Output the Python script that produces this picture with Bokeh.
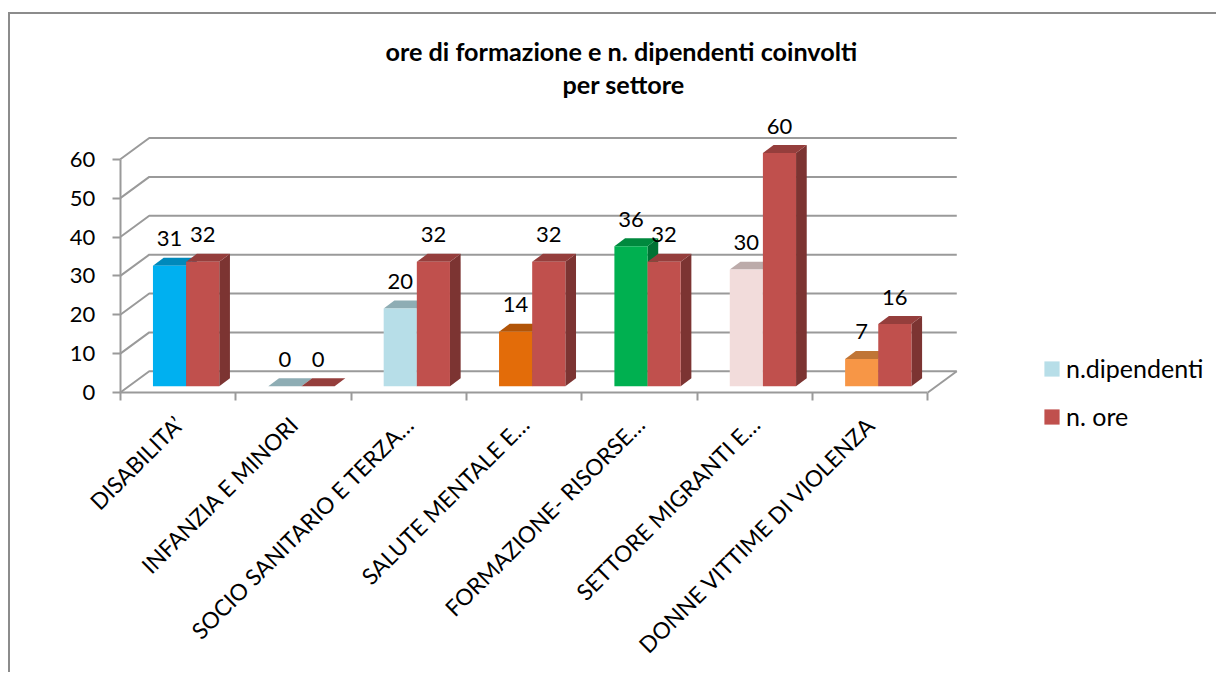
from math import pi
from bokeh.plotting import figure
from bokeh.layouts import column
from bokeh.models import (Range1d, FixedTicker, Legend, LegendItem, ColumnDataSource, Title)
from bokeh.core.properties import value
from bokeh.embed import file_html
from bokeh.resources import INLINE

title_lines = ["ore di formazione e n. dipendenti coinvolti", "per settore"]
categories = ["DISABILITA’", "INFANZIA E MINORI", "SOCIO SANITARIO E TERZA…", "SALUTE MENTALE E…",
              "FORMAZIONE- RISORSE…", "SETTORE MIGRANTI E…", "DONNE VITTIME DI VIOLENZA"]
n_dipendenti = [31, 0, 20, 14, 36, 30, 7]
n_ore = [32, 0, 32, 32, 32, 60, 16]
dip_colors = ["#00B0F0", "#B7DEE8", "#B7DEE8", "#E36C09", "#00B050", "#F2DCDB", "#F79646"]
ore_color = "#C0504D"
y_ticks = [0, 10, 20, 30, 40, 50, 60]

# geometry, in data units
PX_X = 115.55
PX_Y = 3.9
wall_dx, wall_dy = 29 / PX_X, 21.3 / PX_Y
bar_dx, bar_dy = 10.7 / PX_X, 8.0 / PX_Y
bar_w = 33.2 / PX_X
bar_x0 = 32.7 / PX_X
bar_base = 6.3 / PX_Y
label_shift = 1 / PX_X
GRID = "#9A9A9A"
FONT = "Lato"

# figure sits at page (10, 14)
W, H = 1208, 660
ORIG_X, ORIG_Y = 120 - 10, 393 - 14     # canvas position of data (0, 0)
F_T = 85                                # canvas top of the frame
title_offsets = [375, 552]

def shade(c, k):
    r, g, b = int(c[1:3], 16), int(c[3:5], 16), int(c[5:7], 16)
    return "#%02X%02X%02X" % (int(r * k), int(g * k), int(b * k))

p = figure(width=W, height=H, output_backend="svg", toolbar_location=None,
           x_range=Range1d(-ORIG_X / PX_X, (W - ORIG_X) / PX_X),
           y_range=Range1d(-(H - ORIG_Y) / PX_Y, (ORIG_Y - F_T) / PX_Y),
           min_border_left=0, min_border_right=0, min_border_top=F_T, min_border_bottom=0,
           outline_line_color=None, background_fill_color="white", border_fill_color="white",
           tools="")
p.xgrid.visible = False
p.ygrid.visible = False

for line, off in reversed(list(zip(title_lines, title_offsets))):
    p.add_layout(Title(text=line, text_font=FONT, text_font_size="25.2px", text_font_style="bold",
                       text_color="black", align="left", offset=off, standoff=1), "above")

# axes
n = len(categories)
xa = p.xaxis[0]
xa.fixed_location = 0
label_pos = [i + 0.5 + label_shift for i in range(n)]
xa.ticker = FixedTicker(ticks=label_pos, minor_ticks=list(range(n + 1)))
xa.major_label_overrides = dict(zip(label_pos, categories))
xa.major_label_orientation = pi / 4
xa.major_label_text_font = FONT
xa.major_label_text_font_size = "22.6px"
xa.major_label_text_color = "black"
xa.major_label_standoff = 20
xa.major_tick_in = 0
xa.major_tick_out = 0
xa.minor_tick_in = 0
xa.minor_tick_out = 8
xa.minor_tick_line_color = GRID
xa.minor_tick_line_width = 2
xa.axis_line_color = GRID
xa.axis_line_width = 2
xa.bounds = (0, n)

ya = p.yaxis[0]
ya.fixed_location = 0
ya.ticker = FixedTicker(ticks=y_ticks, minor_ticks=[])
ya.major_label_text_font = FONT
ya.major_label_text_font_size = "22px"
ya.major_label_text_color = "black"
ya.major_label_standoff = 17
ya.major_tick_in = 0
ya.major_tick_out = 8
ya.major_tick_line_color = GRID
ya.major_tick_line_width = 2
ya.axis_line_color = GRID
ya.axis_line_width = 2
ya.bounds = (0, 60)

# walls
xs, ys = [], []
for t in y_ticks:
    xs.append([0, wall_dx, n + wall_dx])
    ys.append([t, t + wall_dy, t + wall_dy])
xs.append([n, n + wall_dx])
ys.append([0, wall_dy])
p.multi_line(xs, ys, line_color=GRID, line_width=2)

# bars
def draw_series(vals, colors, offset):
    lefts = [i + bar_x0 + offset * bar_w for i in range(n)]
    rights = [l + bar_w for l in lefts]
    tops = [v + bar_base for v in vals]
    side_x = [[r, r + bar_dx, r + bar_dx, r] for r in rights]
    side_y = [[bar_base, bar_base + bar_dy, t + bar_dy, t] for t in tops]
    p.patches(side_x, side_y, fill_color=[shade(c, 0.65) for c in colors], line_color=None)
    top_x = [[l, l + bar_dx, r + bar_dx, r] for l, r in zip(lefts, rights)]
    top_y = [[t, t + bar_dy, t + bar_dy, t] for t in tops]
    p.patches(top_x, top_y, fill_color=[shade(c, 0.78) for c in colors], line_color=None)
    src = ColumnDataSource(dict(x=[(l + r) / 2 for l, r in zip(lefts, rights)], top=tops,
                                bottom=[bar_base] * n, color=colors,
                                label=[str(v) for v in vals]))
    r = p.vbar(x="x", top="top", bottom="bottom", width=bar_w, fill_color="color", line_color=None, source=src)
    return r, src

r1, s1 = draw_series(n_dipendenti, dip_colors, 0)
r2, s2 = draw_series(n_ore, [ore_color] * n, 1)

for s in (s1, s2):
    p.text(x="x", y="top", text="label", source=s, text_font=value(FONT), text_font_size="22px",
           text_color="black", text_align="center", text_baseline="middle", y_offset=-27)

# legend
legend = Legend(items=[LegendItem(label="n.dipendenti", renderers=[r1], index=2),
                       LegendItem(label="n. ore", renderers=[r2], index=0)],
                location=(1032, 241), orientation="vertical", padding=0, margin=0,
                glyph_width=19, glyph_height=19, label_height=19, label_standoff=5, spacing=18,
                border_line_color=None, background_fill_alpha=0,
                label_text_font=FONT, label_text_font_size="25px", label_text_color="black")
p.add_layout(legend, "center")

# the frame drawn round the picture
page = column(p, width=W, height=H, margin=(12, 0, 0, 8),
              styles={"border-left": "2px solid #8C8C8C", "border-top": "2px solid #8C8C8C"})

open("out.html", "w").write(file_html(page, INLINE))
